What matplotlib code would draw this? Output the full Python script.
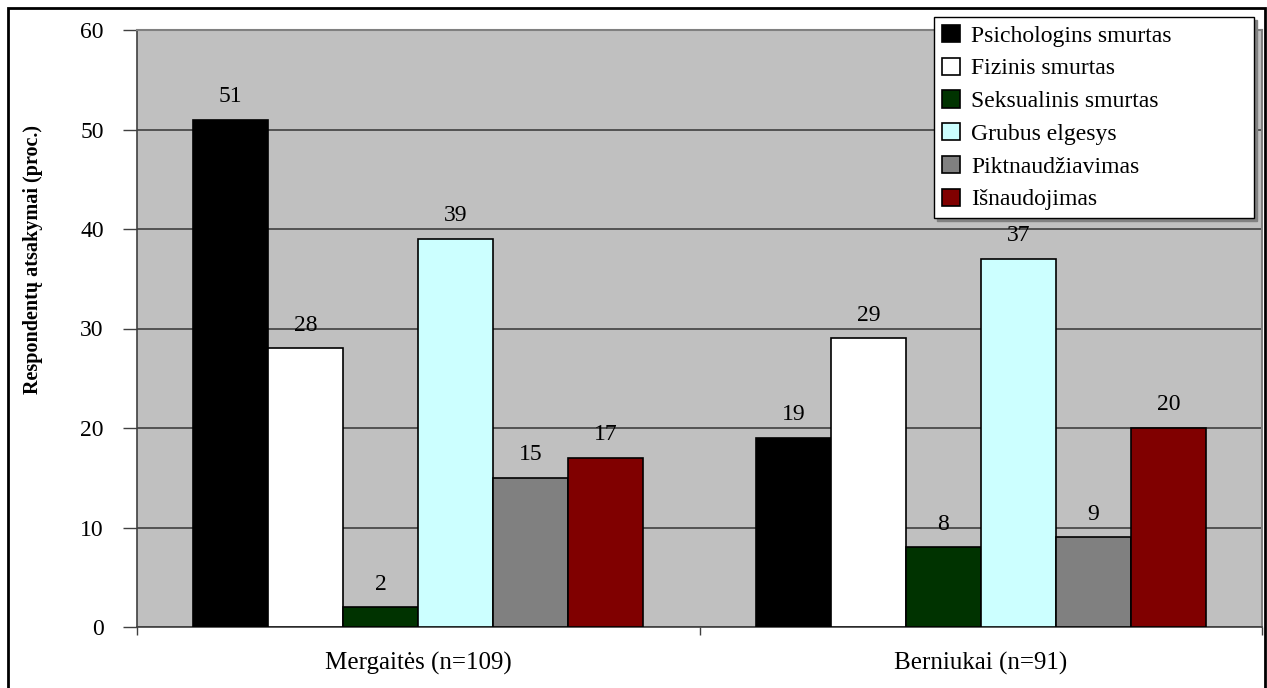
import matplotlib
matplotlib.use("Agg")
import matplotlib.pyplot as plt
import numpy as np
from matplotlib.patches import Rectangle

categories = ["Mergaitės (n=109)", "Berniukai (n=91)"]
series_names = ["Psichologins smurtas", "Fizinis smurtas", "Seksualinis smurtas",
                "Grubus elgesys", "Piktnaudžiavimas", "Išnaudojimas"]
psichologinis = [51, 19]
fizinis = [28, 29]
seksualinis = [2, 8]
grubus = [39, 37]
piktnaudziavimas = [15, 9]
isnaudojimas = [17, 20]
yticks = [0, 10, 20, 30, 40, 50, 60]

series_values = [psichologinis, fizinis, seksualinis, grubus, piktnaudziavimas, isnaudojimas]
colors = ["#000000", "#ffffff", "#003300", "#ccffff", "#808080", "#800000"]

plt.rcParams['font.family'] = ['Liberation Serif', 'DejaVu Serif']

fig = plt.figure(figsize=(12.67, 6.88), dpi=100)
fig.patches.append(Rectangle((8/1267, -0.01), (1265-8)/1267, 1-8/688+0.01,
                             transform=fig.transFigure, fill=False,
                             edgecolor='black', linewidth=2, zorder=0))
ax = fig.add_axes([137/1267, 1-627/688, (1262-137)/1267, (627-30)/688])
ax.set_facecolor('#c0c0c0')

n = len(series_names)
group_w = 0.8
bw = group_w / n
centers = np.arange(len(categories)) + 0.5
for i, (name, vals, c) in enumerate(zip(series_names, series_values, colors)):
    xs = centers - group_w / 2 + bw * (i + 0.5)
    ax.bar(xs, vals, width=bw, color=c, edgecolor='black', linewidth=1.2,
           label=name, zorder=3)
    for x, v in zip(xs, vals):
        ax.annotate(str(v), (x, v), xytext=(0, 9), textcoords='offset points',
                    ha='center', va='bottom', fontsize=17, zorder=4)

ax.set_xlim(0, len(categories))
ax.set_ylim(0, 60)
ax.set_yticks(yticks)
ax.yaxis.grid(True, color='#404040', linewidth=1.2, zorder=1)
ax.set_axisbelow(True)
ax.tick_params(axis='y', direction='out', length=10, width=1, labelsize=17, pad=14, color='#404040')
ax.set_xticks(np.arange(len(categories) + 1))
ax.set_xticklabels([])
ax.tick_params(axis='x', which='major', direction='out', length=6, width=1, color='#404040')
ax.set_xticks(centers, minor=True)
ax.set_xticklabels(categories, minor=True)
ax.tick_params(axis='x', which='minor', length=0, labelsize=18, pad=18)

for s in ['left', 'bottom']:
    ax.spines[s].set_color('#404040')
    ax.spines[s].set_linewidth(1.2)
for s in ['top', 'right']:
    ax.spines[s].set_color('#808080')
    ax.spines[s].set_linewidth(1.5)

fig.text(33/1267, 1-(130+390)/2/688, "Respondentų atsakymai (proc.)", rotation=90,
         ha='center', va='center', fontsize=14.5, fontweight='bold')

lw_px = 320
leg = fig.legend(loc='upper left', bbox_to_anchor=(934/1267, 1-17/688, lw_px/1267, 0.0),
                 mode='expand',
                 fontsize=17, frameon=True, fancybox=False, shadow={'color': '#808080', 'alpha': 1},
                 handlelength=0.75, handleheight=0.75, handletextpad=0.5,
                 labelspacing=0.46, borderpad=0.33, borderaxespad=0)
leg.get_frame().set_edgecolor('black')
leg.get_frame().set_linewidth(1)

fig.savefig("out.png", dpi=100)
